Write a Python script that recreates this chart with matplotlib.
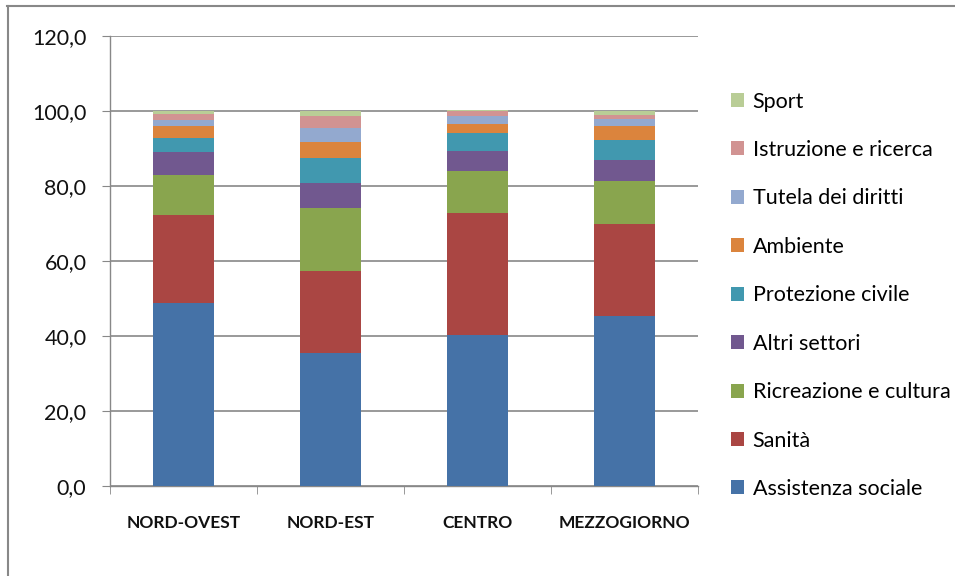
import numpy as np
import matplotlib
matplotlib.use("Agg")
import matplotlib.pyplot as plt
from matplotlib.patches import Patch
from matplotlib.lines import Line2D
from matplotlib.ticker import FuncFormatter, FixedLocator

plt.rcParams['font.family'] = ['Lato', 'DejaVu Sans']

regioni = ["NORD-OVEST", "NORD-EST", "CENTRO", "MEZZOGIORNO"]
settori = ["Assistenza sociale", "Sanità", "Ricreazione e cultura", "Altri settori",
           "Protezione civile", "Ambiente", "Tutela dei diritti",
           "Istruzione e ricerca", "Sport"]

# valori per settore (ordine: NORD-OVEST, NORD-EST, CENTRO, MEZZOGIORNO)
assistenza = [48.8, 35.5, 40.3, 45.3]
sanita = [23.5, 21.8, 32.5, 24.6]
ricreazione = [10.6, 16.8, 11.1, 11.4]
altri = [6.2, 6.7, 5.4, 5.6]
protezione = [3.7, 6.7, 4.8, 5.4]
ambiente = [3.2, 4.2, 2.4, 3.7]
tutela = [1.6, 3.8, 2.1, 1.9]
istruzione = [1.6, 3.2, 1.3, 1.0]
sport = [0.8, 1.3, 0.3, 1.1]

valori = [assistenza, sanita, ricreazione, altri, protezione,
          ambiente, tutela, istruzione, sport]
colori = ["#4572A7", "#AA4643", "#89A54E", "#71588F", "#4198AF",
          "#DB843D", "#93A9CF", "#D19392", "#B9CD96"]

fig = plt.figure(figsize=(9.55, 5.76), dpi=100)
ax = fig.add_axes([110/955, 1 - 486/576, 588/955, 450/576])

x = np.arange(len(regioni))
bottom = np.zeros(len(regioni))
for v, c, lab in zip(valori, colori, settori):
    ax.bar(x, v, 0.41, bottom=bottom, color=c, label=lab, zorder=3)
    bottom += np.array(v)

ax.set_xlim(-0.5, len(regioni) - 0.5)
ax.set_ylim(0, 120)
ax.set_yticks(np.arange(0, 121, 20))
ax.yaxis.set_major_formatter(FuncFormatter(lambda v, p: f"{v:.1f}".replace(".", ",")))
ax.grid(axis='y', color='#888888', linewidth=1.2, zorder=0)
ax.set_axisbelow(True)

ax.set_xticks(x)
ax.set_xticklabels(regioni, fontsize=12.5, fontweight='bold', color='#111111')
ax.xaxis.set_minor_locator(FixedLocator(np.arange(-0.5, len(regioni), 1.0)))
ax.tick_params(axis='x', which='major', length=0, pad=21)
ax.tick_params(axis='x', which='minor', length=6, color='#888888', direction='out')
ax.tick_params(axis='y', length=6, color='#888888', labelsize=15.5, pad=11,
               labelcolor='#111111')

for s in ['top', 'right']:
    ax.spines[s].set_visible(False)
for s in ['left', 'bottom']:
    ax.spines[s].set_color('#888888')
    ax.spines[s].set_linewidth(1.0)

handles = [Patch(facecolor=c, edgecolor='none') for c in colori][::-1]
fig.legend(handles, settori[::-1], loc='upper left',
           bbox_to_anchor=(722/955, 1 - 83/576), frameon=False,
           fontsize=15.5, handlelength=0.62, handleheight=0.62,
           handletextpad=0.4, labelspacing=1.32, borderaxespad=0)

# cornice esterna (visibili solo lato sinistro e superiore)
fig.add_artist(Line2D([7.5/955, 7.5/955], [0, 1 - 6/576], transform=fig.transFigure,
                      color='#888888', linewidth=1.5))
fig.add_artist(Line2D([7/955, 1], [1 - 6/576, 1 - 6/576], transform=fig.transFigure,
                      color='#888888', linewidth=1.5))

fig.savefig("out.png", dpi=100)
